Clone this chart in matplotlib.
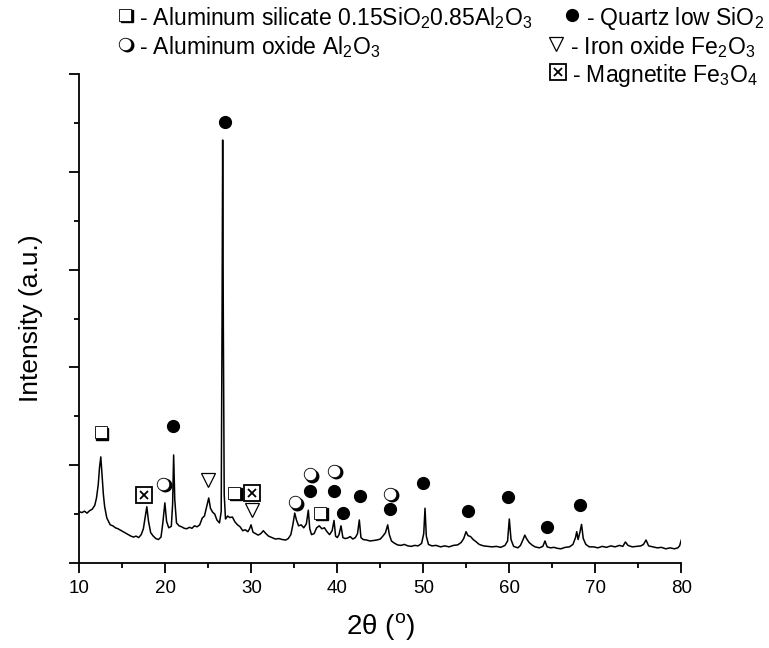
import matplotlib
matplotlib.use("Agg")
import matplotlib.pyplot as plt
from matplotlib import transforms
from matplotlib.ticker import MultipleLocator, NullFormatter

plt.rcParams["font.family"] = ["Liberation Sans", "DejaVu Sans"]
plt.rcParams["mathtext.fontset"] = "custom"
plt.rcParams["mathtext.rm"] = "Liberation Sans"
plt.rcParams["mathtext.it"] = "Liberation Sans"

# XRD pattern (2theta in degrees, intensity in a.u. 0-1000)
two_theta = [
    10.0, 10.3, 10.6, 10.9, 11.2, 11.5, 11.8, 12.0, 12.2, 12.35, 12.5, 12.65, 12.8, 12.95,
    13.2, 13.6, 13.9, 14.2, 14.5, 14.8, 15.1, 15.4, 15.7, 16.0, 16.3, 16.6, 16.9, 17.2,
    17.45, 17.65, 17.85, 18.05, 18.3, 18.6, 18.9, 19.2, 19.5, 19.7, 19.95, 20.15, 20.4,
    20.7, 20.85, 20.97, 21.1, 21.3, 21.6, 21.9, 22.2, 22.5, 22.8, 23.1, 23.4, 23.7, 24.0,
    24.3, 24.55, 24.8, 25.05, 25.25, 25.5, 25.75, 26.0, 26.3, 26.5, 26.6, 26.67, 26.75,
    26.85, 27.0, 27.25, 27.5, 27.8, 28.1, 28.4, 28.7, 29.0, 29.3, 29.6, 29.8, 29.97, 30.2,
    30.5, 30.8, 31.1, 31.4, 31.7, 32.0, 32.4, 32.8, 33.2, 33.6, 34.0, 34.3, 34.6, 34.85,
    35.05, 35.25, 35.5, 35.8, 36.1, 36.4, 36.63, 36.8, 37.0, 37.3, 37.6, 37.9, 38.2, 38.5,
    38.8, 39.1, 39.4, 39.62, 39.8, 40.0, 40.2, 40.43, 40.65, 40.9, 41.2, 41.5, 41.8, 42.1,
    42.35, 42.56, 42.75, 43.0, 43.4, 43.8, 44.2, 44.6, 45.0, 45.3, 45.6, 45.86, 46.05,
    46.3, 46.6, 47.0, 47.4, 47.8, 48.2, 48.6, 49.0, 49.4, 49.8, 50.05, 50.2, 50.35, 50.6,
    51.0, 51.5, 52.0, 52.5, 53.0, 53.5, 54.0, 54.4, 54.7, 54.97, 55.2, 55.5, 55.8, 56.1,
    56.5, 57.0, 57.5, 58.0, 58.5, 59.0, 59.5, 59.8, 60.0, 60.2, 60.5, 61.0, 61.3, 61.6,
    61.8, 62.0, 62.3, 62.7, 63.0, 63.5, 63.9, 64.15, 64.4, 64.8, 65.2, 65.6, 66.0, 66.5,
    67.0, 67.4, 67.7, 67.84, 68.0, 68.2, 68.4, 68.6, 68.9, 69.3, 69.8, 70.3, 70.8, 71.3,
    71.8, 72.3, 72.8, 73.2, 73.5, 73.8, 74.3, 74.8, 75.3, 75.6, 75.9, 76.2, 76.7, 77.2,
    77.7, 78.2, 78.7, 79.2, 79.6, 79.8, 80.0,
]
intensity = [
    105, 103, 106, 102, 107, 110, 118, 133, 160, 195, 217, 180, 140, 115,
    92, 78, 76, 72, 70, 67, 64, 61, 58, 55, 53, 55, 52, 58,
    70, 92, 115, 85, 62, 55, 50, 48, 53, 80, 123, 85, 72,
    75, 120, 221, 130, 82, 76, 74, 71, 70, 73, 71, 76, 74, 78,
    92, 96, 115, 133, 112, 104, 100, 88, 82, 105, 500, 865, 480,
    140, 90, 96, 93, 94, 84, 78, 74, 66, 68, 64, 70, 78, 63,
    60, 57, 60, 66, 60, 55, 52, 49, 50, 48, 47, 50, 58, 80,
    102, 88, 76, 78, 72, 80, 108, 70, 58, 60, 72, 76, 70, 72,
    64, 58, 66, 87, 55, 52, 58, 76, 52, 50, 51, 54, 49, 52,
    60, 88, 52, 48, 47, 45, 46, 47, 49, 55, 62, 78, 58,
    45, 41, 37, 36, 38, 35, 34, 36, 35, 40, 60, 112, 55, 38,
    35, 36, 33, 35, 33, 36, 37, 42, 50, 64, 56, 54, 48, 44,
    38, 35, 34, 33, 34, 32, 36, 45, 90, 48, 34, 31, 36, 48,
    57, 50, 42, 36, 33, 31, 34, 45, 33, 31, 32, 30, 29, 32,
    33, 38, 52, 64, 48, 62, 79, 50, 38, 33, 33, 31, 34, 32,
    35, 33, 36, 34, 43, 36, 33, 34, 35, 38, 47, 35, 33, 31,
    32, 29, 31, 29, 31, 35, 47,
]

# phase markers (position, height of symbol)
silicate_x = [12.49, 27.99, 37.99]
silicate_y = [267, 144, 102]
alumina_x = [19.73, 35.08, 36.83, 39.62, 46.13]
alumina_y = [161, 124, 181, 188, 141]
quartz_x = [20.93, 26.94, 36.83, 39.62, 40.70, 42.64, 46.13, 50.0, 55.23, 59.88, 64.34, 68.22]
quartz_y = [281, 902, 148, 148, 103, 137, 111, 164, 106, 134, 73, 118]
iron_x = [24.93, 30.04]
iron_y = [170, 108]
magnetite_x = [17.52, 30.04]
magnetite_y = [140, 144]

legend_labels = [
    "- Aluminum silicate 0.15SiO$_2$0.85Al$_2$O$_3$",
    "- Quartz low SiO$_2$",
    "- Aluminum oxide Al$_2$O$_3$",
    "- Iron oxide Fe$_2$O$_3$",
    "- Magnetite Fe$_3$O$_4$",
]

W, H = 769, 648


def shadow_marker(ax, xs, ys, marker, size, transform):
    """open marker with a dark offset shadow behind it"""
    fig = ax.figure
    shadow = transforms.offset_copy(transform, fig, x=1.6, y=-1.2, units="dots")
    ax.plot(xs, ys, linestyle="none", marker=marker, markersize=size,
            color="black", transform=shadow, clip_on=False, zorder=4)
    ax.plot(xs, ys, linestyle="none", marker=marker, markersize=size,
            markerfacecolor="white", markeredgecolor="black", markeredgewidth=0.6,
            transform=transform, clip_on=False, zorder=5)


def boxed_x(ax, xs, ys, transform, size=11):
    ax.plot(xs, ys, linestyle="none", marker="s", markersize=size,
            markerfacecolor="white", markeredgecolor="black", markeredgewidth=1.3,
            transform=transform, clip_on=False, zorder=5)
    ax.plot(xs, ys, linestyle="none", marker="x", markersize=size * 0.55,
            color="black", markeredgewidth=1.3, transform=transform,
            clip_on=False, zorder=6)


def draw_symbols(ax, xs_by_phase, transform):
    sx, sy, ax_, ay, qx, qy, ix, iy, mx, my = xs_by_phase
    shadow_marker(ax, sx, sy, "s", 8, transform)
    shadow_marker(ax, ax_, ay, "o", 9, transform)
    ax.plot(qx, qy, linestyle="none", marker="o", markersize=8.5, color="black",
            transform=transform, clip_on=False, zorder=5)
    ax.plot(ix, iy, linestyle="none", marker="v", markersize=10,
            markerfacecolor="white", markeredgecolor="black", markeredgewidth=0.9,
            transform=transform, clip_on=False, zorder=5)
    boxed_x(ax, mx, my, transform)


fig = plt.figure(figsize=(W / 100, H / 100), dpi=100)
ax = fig.add_axes([79.3 / W, 1 - 563 / H, (681.3 - 79.3) / W, (563 - 74) / H])

ax.plot(two_theta, intensity, color="black", linewidth=1.1, zorder=3)
draw_symbols(ax, (silicate_x, silicate_y, alumina_x, alumina_y, quartz_x, quartz_y,
                  iron_x, iron_y, magnetite_x, magnetite_y), ax.transData)

ax.set_xlim(10, 80)
ax.set_ylim(0, 1000)
ax.xaxis.set_major_locator(MultipleLocator(10))
ax.xaxis.set_minor_locator(MultipleLocator(5))
ax.yaxis.set_major_locator(MultipleLocator(200))
ax.yaxis.set_minor_locator(MultipleLocator(100))
ax.yaxis.set_major_formatter(NullFormatter())
for side in ("top", "right"):
    ax.spines[side].set_visible(False)
for side in ("left", "bottom"):
    ax.spines[side].set_linewidth(1.3)
ax.tick_params(which="major", length=7, width=1.3, labelsize=13.5, pad=5)
ax.tick_params(which="minor", length=3.5, width=1.3)
ax.set_xlabel("2θ ($^{\\rm o}$)", fontsize=20, labelpad=10)
ax.set_ylabel("Intensity (a.u.)", fontsize=19, labelpad=14)

# legend drawn by hand in figure pixels (marker x, y from top)
leg_pos = [(125, 15), (572, 15), (125, 44), (556, 44), (558, 72)]
ft = fig.transFigure
pts = [(x / W, 1 - y / H) for x, y in leg_pos]
draw_symbols(ax, ([pts[0][0]], [pts[0][1]], [pts[2][0]], [pts[2][1]],
                  [pts[1][0]], [pts[1][1]], [pts[3][0]], [pts[3][1]],
                  [pts[4][0]], [pts[4][1]]), ft)
for (x, y), label in zip(leg_pos, legend_labels):
    fig.text((x + 14) / W, 1 - y / H, label, fontsize=16.5, va="center_baseline",
             ha="left")

fig.savefig("out.png", dpi=100)
